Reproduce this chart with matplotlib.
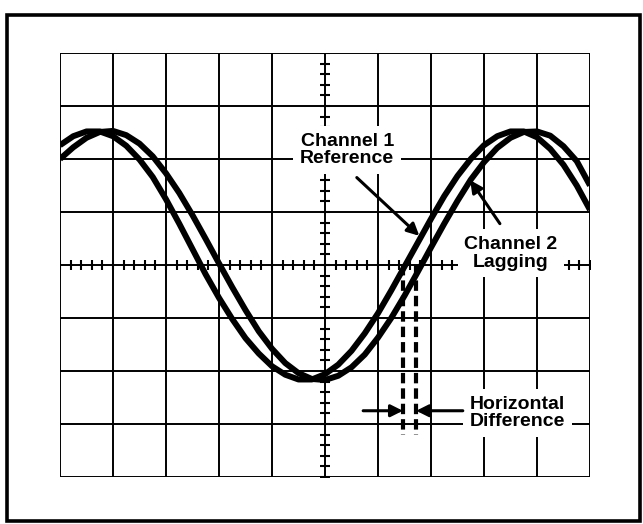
import matplotlib.pyplot as plt
from matplotlib.patches import Rectangle

# screen positions in divisions (10 across, 8 high, centre = 0)
x_div = [0.0, 0.25, 0.5, 0.75, 1.0, 1.25, 1.5, 1.75, 2.0, 2.25,
         2.5, 2.75, 3.0, 3.25, 3.5, 3.75, 4.0, 4.25, 4.5, 4.75,
         5.0, 5.25, 5.5, 5.75, 6.0, 6.25, 6.5, 6.75, 7.0, 7.25,
         7.5, 7.75, 8.0, 8.25, 8.5, 8.75, 9.0, 9.25, 9.5, 9.75, 10.0]

# channel 1 (reference) trace
ch1 = [2.26, 2.43, 2.52, 2.52, 2.43, 2.25, 1.99, 1.66, 1.24, 0.78,
       0.30, -0.18, -0.62, -1.02, -1.38, -1.67, -1.91, -2.07, -2.16, -2.16,
       -2.06, -1.88, -1.62, -1.29, -0.91, -0.48, -0.03, 0.42, 0.87, 1.30,
       1.68, 2.00, 2.26, 2.43, 2.52, 2.52, 2.41, 2.19, 1.89, 1.50, 1.04]

# channel 2 (lagging) trace
ch2 = [2.00, 2.22, 2.40, 2.51, 2.53, 2.45, 2.29, 2.05, 1.73, 1.36,
       0.94, 0.49, 0.03, -0.42, -0.85, -1.25, -1.58, -1.85, -2.04, -2.15,
       -2.17, -2.09, -1.93, -1.69, -1.37, -1.00, -0.58, -0.13, 0.33, 0.78,
       1.21, 1.61, 1.94, 2.21, 2.40, 2.51, 2.52, 2.44, 2.24, 1.96, 1.50]

# zero crossings used for the horizontal difference
cross_x = [6.47, 6.72]
dash_bottom = -3.2

labels = ["Channel 1\nReference", "Channel 2\nLagging", "Horizontal\nDifference"]

fig = plt.figure(figsize=(6.43, 5.24), dpi=100)
ax = fig.add_axes([60 / 643, 47 / 524, 530 / 643, 424 / 524])
ax.set_xlim(0, 10)
ax.set_ylim(-4, 4)
ax.axis("off")

# graticule
for i in range(11):
    ax.plot([i, i], [-4, 4], color="black", lw=1.4, zorder=1)
for j in range(-4, 5):
    ax.plot([0, 10], [j, j], color="black", lw=1.4, zorder=1)

# minor ticks on the centre lines
tx = [k * 0.2 for k in range(51)]
ty = [-4 + k * 0.2 for k in range(41)]
ax.plot(tx, [0] * len(tx), ls="none", marker="|", ms=7, mew=1.5, color="black", zorder=1)
ax.plot([5] * len(ty), ty, ls="none", marker="_", ms=7, mew=1.5, color="black", zorder=1)

# traces
ax.plot(x_div, ch1, color="black", lw=4.3, solid_joinstyle="round", solid_capstyle="butt", zorder=4)
ax.plot(x_div, ch2, color="black", lw=4.3, solid_joinstyle="round", solid_capstyle="butt", zorder=4)

# dashed drop lines
for cx in cross_x:
    ax.plot([cx, cx], [0, dash_bottom], color="black", lw=3, dashes=(2.5, 1.2), zorder=4)

font = dict(family="Liberation Sans", weight="bold", size=14, linespacing=1.05)
box = dict(boxstyle="square,pad=0.35", facecolor="white", edgecolor="none")

ax.text(5.42, 2.17, labels[0], ha="center", va="center", bbox=box, zorder=3, **font)
ax.text(8.51, 0.22, labels[1], ha="center", va="center", bbox=box, zorder=3, **font)
ax.text(7.74, -2.79, labels[2], ha="left", va="center", bbox=box, zorder=3, **font)

arrow = dict(arrowstyle="-|>", color="black", lw=2.2, mutation_scale=18, shrinkA=0, shrinkB=0)
ax.annotate("", xy=(6.78, 0.55), xytext=(5.6, 1.65), arrowprops=arrow, zorder=5)
ax.annotate("", xy=(7.74, 1.60), xytext=(8.30, 0.78), arrowprops=arrow, zorder=5)
ax.annotate("", xy=(cross_x[0], -2.75), xytext=(5.72, -2.75), arrowprops=arrow, zorder=5)
ax.annotate("", xy=(cross_x[1], -2.75), xytext=(7.60, -2.75), arrowprops=arrow, zorder=5)

# outer frame
fig.add_artist(Rectangle((7 / 643, 3 / 524), 633 / 643, 506 / 524, transform=fig.transFigure,
                         fill=False, edgecolor="black", lw=2.6))

fig.savefig("out.png", dpi=100)
